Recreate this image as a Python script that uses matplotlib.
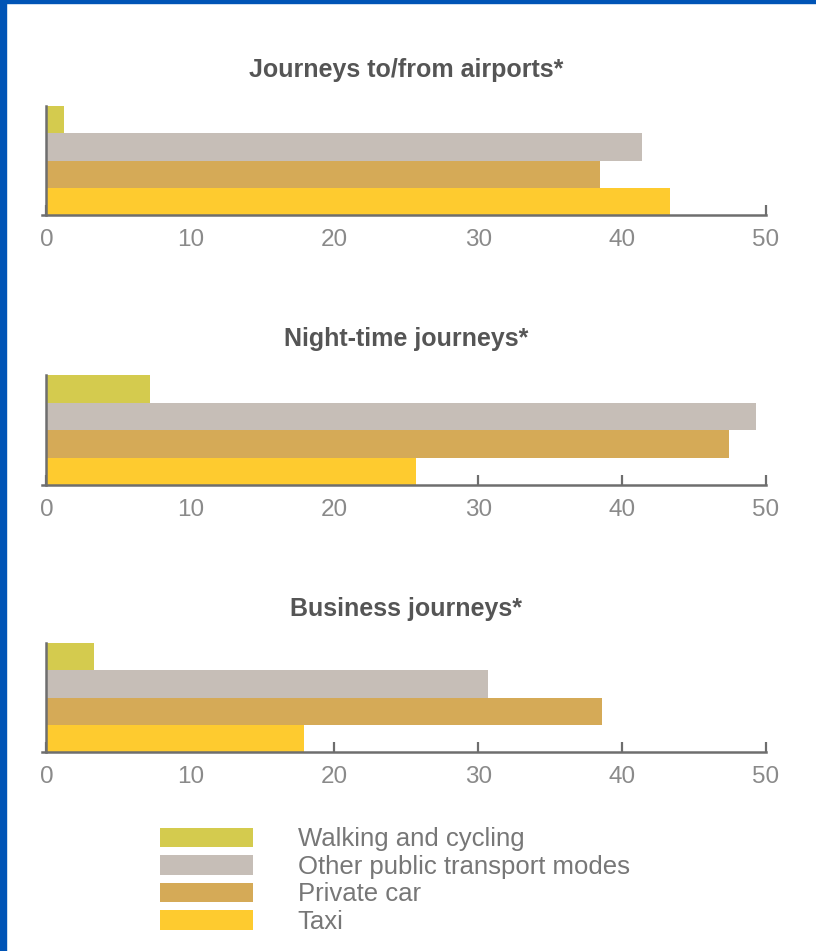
import matplotlib
matplotlib.use("Agg")
import matplotlib.pyplot as plt
from matplotlib.patches import Rectangle

plt.rcParams['font.family'] = ['Liberation Sans', 'DejaVu Sans']

titles = ["Journeys to/from airports*", "Night-time journeys*", "Business journeys*"]
modes = ["Walking and cycling", "Other public transport modes", "Private car", "Taxi"]
colors = ["#D4CB4E", "#C6BEB7", "#D5AA57", "#FECB2F"]
airports = [1.2, 41.4, 38.5, 43.3]
night = [7.2, 49.3, 47.4, 25.7]
business = [3.3, 30.7, 38.6, 17.9]
panels = [airports, night, business]
xticks = [0, 10, 20, 30, 40, 50]

W, H = 816, 951
fig = plt.figure(figsize=(W / 100, H / 100), dpi=100)
fig.patch.set_facecolor('white')

# blue frame
fig.add_artist(Rectangle((0, 0), 6 / W, 1, transform=fig.transFigure, color="#0054B6", zorder=10))
fig.add_artist(Rectangle((0, 1 - 3 / H), 1, 3 / H, transform=fig.transFigure, color="#0054B6", zorder=10))

axis_px = [(106, 215), (375, 485), (643, 752)]
title_y = [70, 339, 609]
x0, x1 = 42, 766
ypos = [3, 2, 1, 0]

handles = None
for i, (vals, ttl) in enumerate(zip(panels, titles)):
    top, bot = axis_px[i]
    ax = fig.add_axes([x0 / W, 1 - bot / H, (x1 - x0) / W, (bot - top) / H])
    bars = []
    for y, v, c, m in zip(ypos, vals, colors, modes):
        b = ax.barh(y, v, height=1.0, color=c, linewidth=0, label=m, zorder=2)
        bars.append(b)
    if handles is None:
        handles = bars
    ax.set_xlim(-0.3, 50)
    ax.set_ylim(-0.5, 3.5)
    ax.set_axisbelow(True)
    for s in ['top', 'right']:
        ax.spines[s].set_visible(False)
    ax.spines['left'].set_position(('data', 0))
    for s in ['left', 'bottom']:
        ax.spines[s].set_color('#6e6e6e')
        ax.spines[s].set_linewidth(1.8)
        ax.spines[s].set_zorder(3)
    ax.set_yticks([])
    ax.set_xticks(xticks)
    ax.set_xticklabels([str(t) for t in xticks])
    ax.tick_params(axis='x', direction='in', length=7, width=1.6, color='#6e6e6e',
                   labelsize=17.5, labelcolor='#8a8a8a', pad=10)
    fig.text(406 / W, 1 - title_y[i] / H, ttl, ha='center', va='center',
             fontsize=18, fontweight='bold', color='#555555')

leg = fig.legend(handles=[h[0] for h in handles], labels=modes, loc='upper left',
                 bbox_to_anchor=(150 / W, 1 - 817 / H), frameon=False,
                 fontsize=18.5, handlelength=3.6, handleheight=0.78, handletextpad=1.75,
                 labelspacing=0.14, borderaxespad=0)
for t in leg.get_texts():
    t.set_color('#777777')

fig.savefig("out.png", dpi=100)
